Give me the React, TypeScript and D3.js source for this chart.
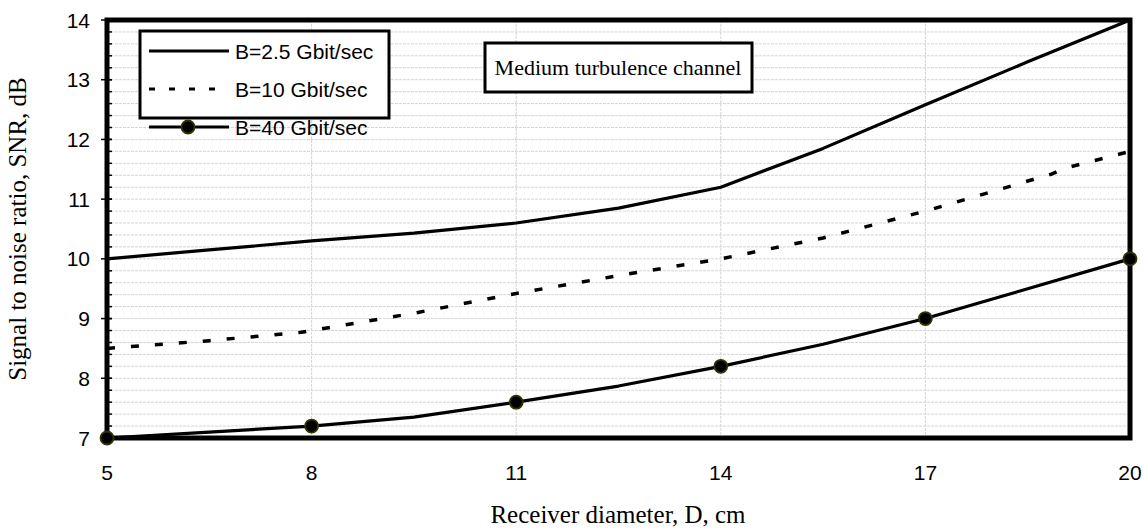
import React from "react";
import * as d3 from "d3";

const xTicks = [5, 8, 11, 14, 17, 20];
const yTicks = [7, 8, 9, 10, 11, 12, 13, 14];

const xB25 = [5, 6.5, 8, 9.5, 11, 12.5, 14, 15.5, 17, 18.5, 20];
const yB25 = [10, 10.15, 10.3, 10.43, 10.6, 10.85, 11.2, 11.85, 12.58, 13.3, 14];

const xB10 = [5, 6.5, 7.85, 8, 9.5, 11, 12.5, 14, 15.5, 17, 17.3, 18.85, 19.05, 20];
const yB10 = [8.5, 8.63, 8.77, 8.8, 9.09, 9.42, 9.72, 10.0, 10.35, 10.8, 10.9, 11.42, 11.52, 11.8];

const xB40 = [5, 6.5, 8, 9.5, 11, 12.5, 14, 15.5, 17, 18.5, 20];
const yB40 = [7, 7.1, 7.2, 7.35, 7.6, 7.87, 8.2, 8.57, 9.0, 9.5, 10.0];
const xMarkers = [5, 8, 11, 14, 17, 20];
const yMarkers = [7, 7.2, 7.6, 8.2, 9.0, 10.0];

const legendLabels = ["B=2.5 Gbit/sec", "B=10 Gbit/sec", "B=40 Gbit/sec"];
const annotation = "Medium turbulence channel";
const xTitle = "Receiver diameter, D, cm";
const yTitle = "Signal to noise ratio, SNR, dB";

export default function App() {
  const W = 1144, H = 532;
  const L = 107, R = 1130, T = 20, B = 438;
  const x = d3.scaleLinear().domain([5, 20]).range([L, R]);
  const y = d3.scaleLinear().domain([7, 14]).range([B, T]);
  const line = d3.line<[number, number]>().x(d => x(d[0])).y(d => y(d[1]));
  const zip = (a: number[], b: number[]) => a.map((v, i) => [v, b[i]] as [number, number]);

  const minor = d3.range(7, 14.001, 0.2);
  const sans = "'Liberation Sans', Arial, sans-serif";
  const serif = "'Liberation Serif', 'Times New Roman', serif";

  return (
    <svg width={W} height={H} style={{ position: "absolute", left: 0, top: 0, background: "#fff" }}>
      {/* grid */}
      {minor.map((v, i) => (
        <line key={"h" + i} x1={L} x2={R} y1={y(v)} y2={y(v)} stroke="#d4d4d4" strokeWidth={1} strokeDasharray="3,1" />
      ))}
      {xTicks.slice(1, -1).map(v => (
        <line key={"v" + v} x1={x(v)} x2={x(v)} y1={T} y2={B} stroke="#d4d4d4" strokeWidth={1} strokeDasharray="3,1" />
      ))}
      {/* minor ticks */}
      {minor.map((v, i) => (
        <line key={"t" + i} x1={L} x2={L + 5} y1={y(v)} y2={y(v)} stroke="#000" strokeWidth={1.5} />
      ))}
      {yTicks.map(v => (
        <line key={"mt" + v} x1={L - 6} x2={L + 5} y1={y(v)} y2={y(v)} stroke="#000" strokeWidth={1.5} />
      ))}
      {/* series */}
      <path d={line(zip(xB25, yB25)) || ""} fill="none" stroke="#000" strokeWidth={3.2} strokeLinejoin="round" />
      <path d={line(zip(xB10, yB10)) || ""} fill="none" stroke="#000" strokeWidth={3.5} strokeDasharray="8,16" />
      <path d={line(zip(xB40, yB40)) || ""} fill="none" stroke="#000" strokeWidth={3.2} strokeLinejoin="round" />
      {/* frame */}
      <rect x={L} y={T} width={R - L} height={B - T} fill="none" stroke="#000" strokeWidth={5} />
      {xMarkers.map((v, i) => (
        <circle key={"m" + i} cx={x(v)} cy={y(yMarkers[i])} r={6.5} fill="#000" stroke="#333300" strokeWidth={1.8} />
      ))}
      {/* tick labels */}
      {yTicks.map(v => (
        <text key={"yl" + v} x={90} y={y(v) + 7.5} textAnchor="end" fontFamily={sans} fontSize={21}>{v}</text>
      ))}
      {xTicks.map(v => (
        <text key={"xl" + v} x={x(v)} y={480} textAnchor="middle" fontFamily={sans} fontSize={21}>{v}</text>
      ))}
      {/* titles */}
      <text x={618} y={523} textAnchor="middle" fontFamily={serif} fontSize={25}>{xTitle}</text>
      <text transform={`translate(26,${(T + B) / 2}) rotate(-90)`} textAnchor="middle" fontFamily={serif} fontSize={25}>{yTitle}</text>
      {/* legend */}
      <rect x={140} y={31} width={249} height={87} fill="#fff" stroke="#000" strokeWidth={3} />
      {legendLabels.map((lab, i) => {
        const ly = 51 + i * 38;
        return (
          <g key={lab}>
            <line x1={149} x2={229} y1={ly} y2={ly} stroke="#000" strokeWidth={3.2}
              strokeDasharray={i === 1 ? "6,14" : undefined} />
            {i === 2 && <circle cx={188} cy={ly} r={6.5} fill="#000" stroke="#333300" strokeWidth={1.8} />}
            <text x={235} y={ly + 7.5} fontFamily={sans} fontSize={21}>{lab}</text>
          </g>
        );
      })}
      {/* annotation */}
      <rect x={485} y={43} width={267} height={49} fill="#fff" stroke="#000" strokeWidth={3} />
      <text x={618} y={75} textAnchor="middle" fontFamily={serif} fontSize={22}>{annotation}</text>
    </svg>
  );
}
